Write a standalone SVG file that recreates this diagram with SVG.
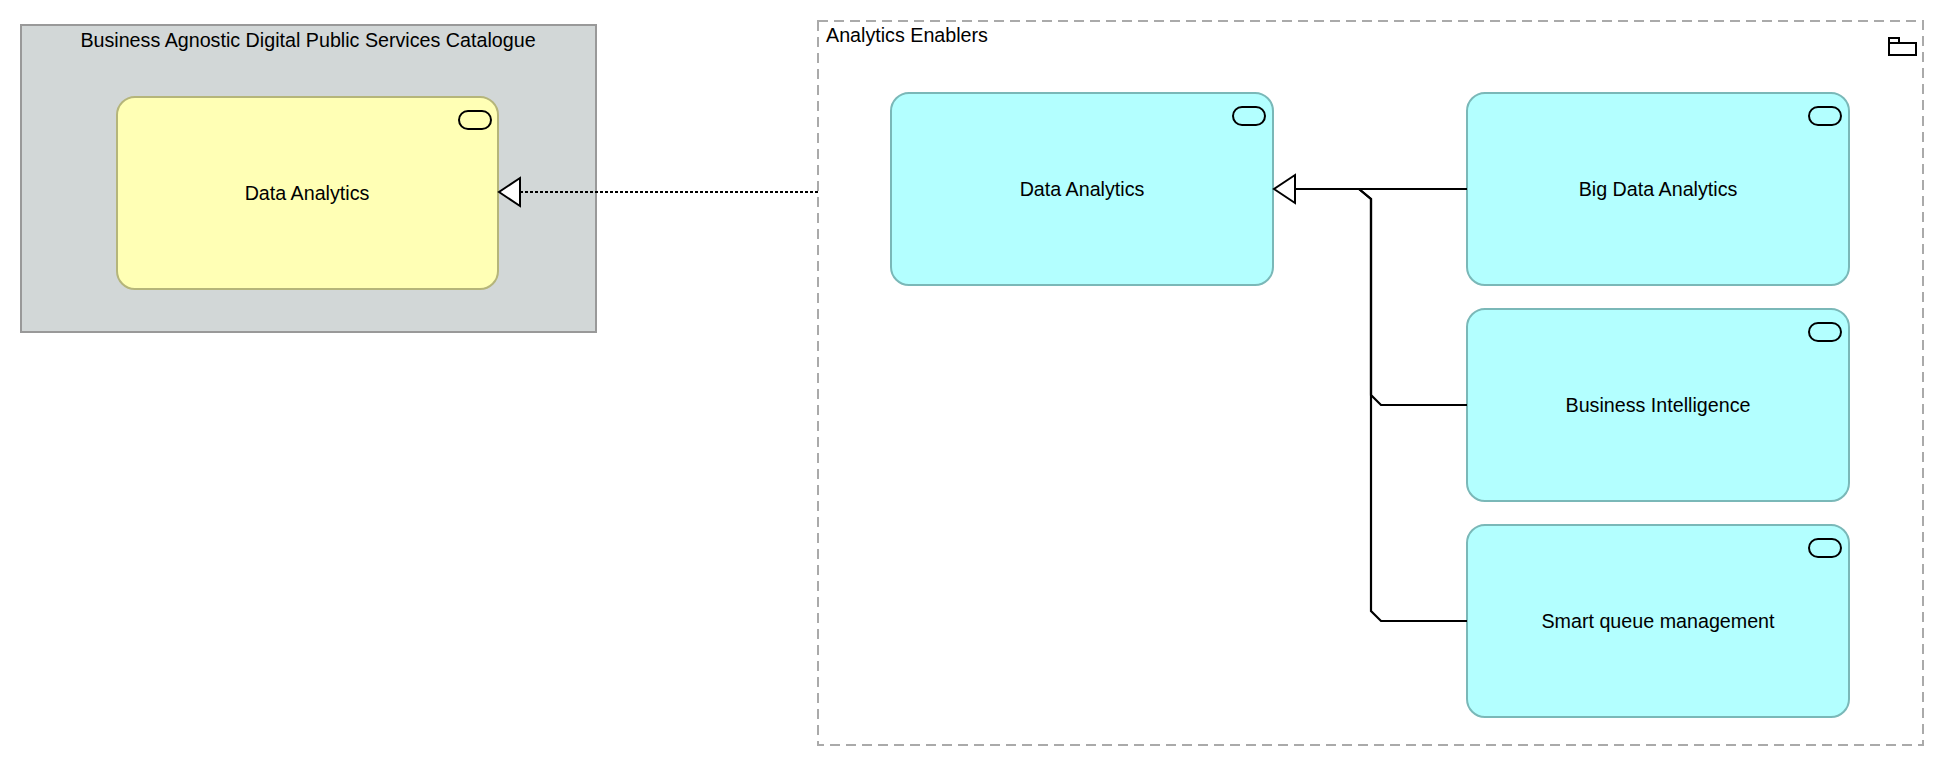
<svg xmlns="http://www.w3.org/2000/svg" width="1944" height="766" viewBox="0 0 1944 766">
<style>
text{font-family:"Liberation Sans",Arial,sans-serif;font-size:19.7px;fill:#000}
.svc{fill:#b3ffff;stroke:#7ab8b8;stroke-width:2}
.ico{fill:none;stroke:#000;stroke-width:2}
.c{fill:none;stroke:#000;stroke-width:2.2}
</style>
<defs>
<marker id="tri" markerWidth="24" markerHeight="32" refX="22" refY="16" orient="auto" markerUnits="userSpaceOnUse">
<path d="M22,16 L1,2 L1,30 Z" fill="#fff" stroke="#000" stroke-width="2"/>
</marker>
</defs>
<g id="catalogue">
<rect x="21" y="25" width="575" height="307" fill="#d2d7d7" stroke="#999" stroke-width="2"/>
<text x="308" y="47" text-anchor="middle">Business Agnostic Digital Public Services Catalogue</text>
</g>
<g id="enablers">
<rect x="818" y="21" width="1105" height="724" fill="none" stroke="#aaa" stroke-width="2" stroke-dasharray="10,6"/>
<text x="826" y="42">Analytics Enablers</text>
<path d="M1889,38 h10 v5 h17 v12 h-27 z M1889,43 h10" class="ico" stroke-width="1.6"/>
</g>
<g id="da-yellow">
<rect x="117" y="97" width="381" height="192" rx="18" fill="#ffffb5" stroke="#b5b57a" stroke-width="2"/>
<rect x="459" y="111" width="32" height="18" rx="9" class="ico"/>
<text x="307" y="200" text-anchor="middle">Data Analytics</text>
</g>
<g id="da-cyan">
<rect x="891" y="93" width="382" height="192" rx="18" class="svc"/>
<rect x="1233" y="107" width="32" height="18" rx="9" class="ico"/>
<text x="1082" y="196" text-anchor="middle">Data Analytics</text>
</g>
<g id="bigdata">
<rect x="1467" y="93" width="382" height="192" rx="18" class="svc"/>
<rect x="1809" y="107" width="32" height="18" rx="9" class="ico"/>
<text x="1658" y="196" text-anchor="middle">Big Data Analytics</text>
</g>
<g id="bi">
<rect x="1467" y="309" width="382" height="192" rx="18" class="svc"/>
<rect x="1809" y="323" width="32" height="18" rx="9" class="ico"/>
<text x="1658" y="412" text-anchor="middle">Business Intelligence</text>
</g>
<g id="sqm">
<rect x="1467" y="525" width="382" height="192" rx="18" class="svc"/>
<rect x="1809" y="539" width="32" height="18" rx="9" class="ico"/>
<text x="1658" y="628" text-anchor="middle">Smart queue management</text>
</g>
<g id="connectors">
<path d="M818,192 L499,192" class="c" stroke-dasharray="3,2" marker-end="url(#tri)"/>
<path d="M1467,189 L1274,189" class="c" marker-end="url(#tri)"/>
<path d="M1467,405 L1381,405 L1371,395 L1371,199 L1359,189" class="c"/>
<path d="M1467,621 L1381,621 L1371,611 L1371,199 L1359,189" class="c"/>
</g>
</svg>
